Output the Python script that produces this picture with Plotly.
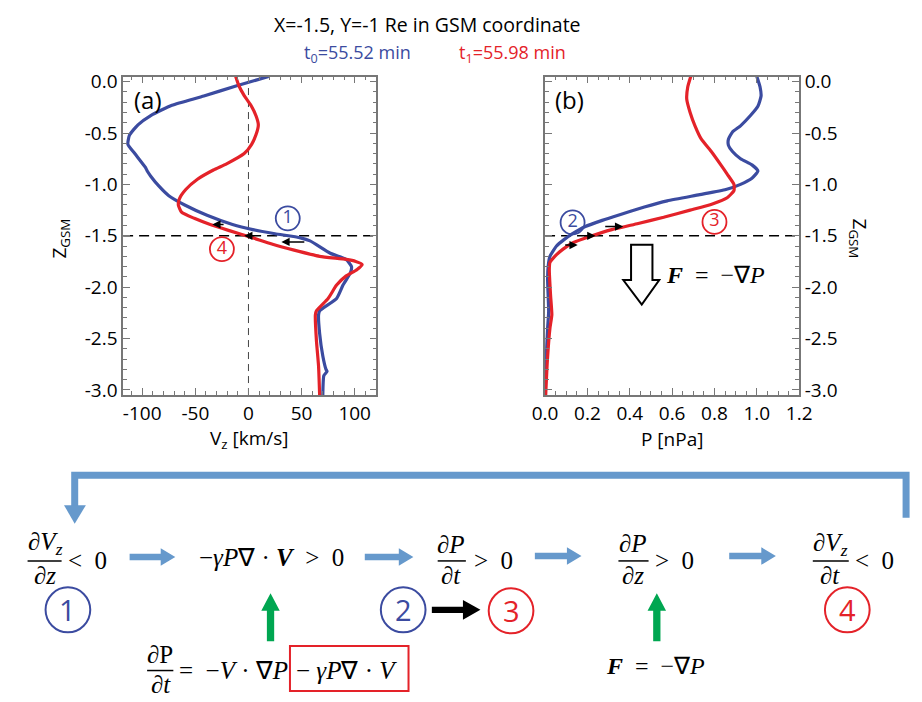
import plotly.graph_objects as go

W, H = 922, 702
BLUE = "#3b4ba0"
RED = "#e42229"
LBLUE = "#6699cc"
GREEN = "#00a651"
AXC = "#777777"
SANS = "Open Sans"
SERIF = "Liberation Serif"

# ---------------- data ----------------
# panel (a): Vz [km/s] vs Z_GSM
z_vz_t0 = [0.05, -0.04, -0.14, -0.23, -0.33, -0.42, -0.52, -0.61, -0.70, -0.835, -0.875, -0.92,
           -1.02, -1.11, -1.20, -1.30, -1.39, -1.44, -1.48, -1.52, -1.55, -1.67, -1.73, -1.80,
           -1.86, -1.98, -2.11, -2.23, -2.27, -2.45, -2.67, -2.80, -2.82, -2.86, -3.05]
vz_t0 = [19, -11, -42, -72, -92, -104, -112, -113.5, -107, -97, -95, -92,
         -84, -75, -60, -39, -15, 4, 25, 49, 58, 77, 92, 97,
         96, 89, 83, 67, 66, 67, 70, 73, 74, 71, 70]

z_vz_t1 = [0.05, -0.04, -0.136, -0.23, -0.33, -0.42, -0.52, -0.61, -0.70, -0.80, -0.86, -0.95,
           -1.05, -1.14, -1.20, -1.27, -1.33, -1.39, -1.45, -1.52, -1.58, -1.64, -1.70, -1.73,
           -1.75, -1.78, -1.83, -1.89, -1.98, -2.11, -2.23, -2.27, -2.52, -2.77, -3.05]
vz_t1 = [-12, -9, -4, 2.3, 7, 9.3, 7, 3, -4, -20.6, -33, -48,
         -59, -65, -66, -63, -51, -36, -18, 4, 22, 43, 67, 92,
         101, 107, 102, 92, 83, 75, 64, 63, 64, 66, 67]

# panel (b): P [nPa] vs Z_GSM
z_p_t0 = [0.05, -0.05, -0.14, -0.24, -0.33, -0.43, -0.49, -0.56, -0.62, -0.68, -0.75, -0.81,
          -0.87, -0.94, -1.00, -1.05, -1.10, -1.16, -1.22, -1.29, -1.35, -1.41, -1.48, -1.54,
          -1.60, -1.70, -1.79, -1.92, -2.24, -2.40, -2.71, -3.05]
p_t0 = [1.00, 1.015, 1.02, 1.005, 0.97, 0.923, 0.885, 0.866, 0.866, 0.885, 0.923, 0.977,
        1.005, 0.977, 0.923, 0.854, 0.73, 0.577, 0.469, 0.36, 0.27, 0.19, 0.13, 0.088,
        0.054, 0.023, 0.015, 0.012, 0.017, 0.012, 0.005, 0.0]

z_p_t1 = [0.05, -0.05, -0.17, -0.30, -0.43, -0.56, -0.68, -0.81, -0.90, -1.00, -1.06, -1.13,
          -1.19, -1.25, -1.32, -1.38, -1.44, -1.51, -1.57, -1.63, -1.70, -1.76, -1.83, -2.08,
          -2.27, -2.40, -2.71, -3.05]
p_t1 = [0.688, 0.674, 0.669, 0.685, 0.708, 0.738, 0.785, 0.83, 0.86, 0.892, 0.892, 0.86,
        0.79, 0.685, 0.56, 0.44, 0.315, 0.208, 0.13, 0.085, 0.046, 0.023, 0.02, 0.026,
        0.032, 0.023, 0.011, 0.003]

# small gradient arrows (tail x, head x, z)
arrows_a = [(-22, -34, -1.39), (7, -4, -1.50), (54, 31, -1.56)]
arrows_b = [(0.277, 0.369, -1.41), (0.177, 0.238, -1.50), (0.088, 0.154, -1.59)]
# circled step numbers inside the panels (x, z, label, colour)
marks_a = [(37, -1.33, "1", BLUE), (-25, -1.63, "4", RED)]
marks_b = [(0.13, -1.37, "2", BLUE), (0.80, -1.365, "3", RED)]

va_ticks = [-100, -50, 0, 50, 100]
p_ticks = [0.0, 0.2, 0.4, 0.6, 0.8, 1.0, 1.2]
z_ticks = [0.0, -0.5, -1.0, -1.5, -2.0, -2.5, -3.0]
z_ref = -1.5


def px(x):
    return x / W


def py(y):
    return 1 - y / H


def poly_path(pts, close=True):
    s = "M " + " L ".join(f"{px(x):.5f},{py(y):.5f}" for x, y in pts)
    return s + (" Z" if close else "")


def h_arrow(x0, x1, y, t, hl, hw):
    return [(x0, y - t / 2), (x1 - hl, y - t / 2), (x1 - hl, y - hw), (x1, y),
            (x1 - hl, y + hw), (x1 - hl, y + t / 2), (x0, y + t / 2)]


def v_arrow_up(x, y0, y1, t, hl, hw):
    return [(x - t / 2, y0), (x - t / 2, y1 + hl), (x - hw, y1 + hl), (x, y1),
            (x + hw, y1 + hl), (x + t / 2, y1 + hl), (x + t / 2, y0)]


fig = go.Figure()
line_kw = dict(width=3.2, shape="spline", smoothing=0.5)
fig.add_trace(go.Scatter(x=vz_t0, y=z_vz_t0, mode="lines", line=dict(color=BLUE, **line_kw),
                         xaxis="x", yaxis="y"))
fig.add_trace(go.Scatter(x=vz_t1, y=z_vz_t1, mode="lines", line=dict(color=RED, **line_kw),
                         xaxis="x", yaxis="y"))
fig.add_trace(go.Scatter(x=p_t0, y=z_p_t0, mode="lines", line=dict(color=BLUE, **line_kw),
                         xaxis="x2", yaxis="y2"))
fig.add_trace(go.Scatter(x=p_t1, y=z_p_t1, mode="lines", line=dict(color=RED, **line_kw),
                         xaxis="x2", yaxis="y2"))

for marks, xa, ya in [(marks_a, "x", "y"), (marks_b, "x2", "y2")]:
    for mx, mz, lab, col in marks:
        fig.add_trace(go.Scatter(x=[mx], y=[mz], mode="markers+text", text=[lab],
                                 textposition="middle center",
                                 textfont=dict(family=SANS, size=18, color=col),
                                 marker=dict(symbol="circle-open", size=24, color=col, line=dict(width=1.8)),
                                 xaxis=xa, yaxis=ya))

tickfont = dict(family=SANS, size=19, color="black")
common = dict(ticks="inside", ticklen=7, tickwidth=1.2, tickcolor=AXC, showline=True,
              linecolor=AXC, linewidth=1.5, mirror="ticks", showgrid=False, zeroline=False,
              tickfont=tickfont, tickmode="array")


def fmt(v):
    return f"{v:.1f}"


x_dom_a = [px(113.3), px(374)]
x_dom_b = [px(547.5), px(809)]
y_dom = [py(395.5), py(70)]

fig.update_layout(
    width=W, height=H, margin=dict(l=0, r=0, t=0, b=0),
    paper_bgcolor="white", plot_bgcolor="white", showlegend=False,
    xaxis=dict(domain=x_dom_a, range=[-118, 120.5], tickvals=va_ticks,
               ticktext=[str(v) for v in va_ticks], anchor="y",
               minor=dict(tickmode="linear", tick0=0, dtick=10, ticks="inside", ticklen=4,
                          tickcolor=AXC, showgrid=False), **common),
    yaxis=dict(domain=y_dom, range=[-3.05, 0.05], tickvals=z_ticks,
               ticktext=[fmt(v) for v in z_ticks], anchor="x",
               minor=dict(tickmode="linear", tick0=0, dtick=0.1, ticks="inside", ticklen=4,
                          tickcolor=AXC, showgrid=False), **common),
    xaxis2=dict(domain=x_dom_b, range=[0, 1.2], tickvals=p_ticks,
                ticktext=[fmt(v) for v in p_ticks], anchor="y2",
                minor=dict(tickmode="linear", tick0=0, dtick=0.05, ticks="inside", ticklen=4,
                           tickcolor=AXC, showgrid=False), **common),
    yaxis2=dict(domain=y_dom, range=[-3.05, 0.05], tickvals=z_ticks, side="right",
                ticktext=[fmt(v) for v in z_ticks], anchor="x2",
                minor=dict(tickmode="linear", tick0=0, dtick=0.1, ticks="inside", ticklen=4,
                           tickcolor=AXC, showgrid=False), **common),
)

shapes = []
# reference dashed lines
shapes.append(dict(type="line", xref="x domain", yref="y", x0=0, x1=1, y0=z_ref, y1=z_ref,
                   line=dict(color="black", width=1.6, dash="10px,6px"), layer="below"))
shapes.append(dict(type="line", xref="x2 domain", yref="y2", x0=0, x1=1, y0=z_ref, y1=z_ref,
                   line=dict(color="black", width=1.6, dash="10px,6px"), layer="below"))
shapes.append(dict(type="line", xref="x", yref="y domain", x0=0, x1=0, y0=0, y1=1,
                   line=dict(color="#444444", width=1, dash="7px,5px"), layer="below"))
# hollow force arrow in panel (b)
shapes.append(dict(type="path", xref="paper", yref="paper",
                   path=poly_path([(636, 242), (658, 242), (658, 278), (665, 278), (647, 303),
                                   (628, 278), (636, 278)]),
                   line=dict(color="black", width=2), fillcolor="rgba(0,0,0,0)"))
# feedback bracket
shapes.append(dict(type="path", xref="paper", yref="paper",
                   path=poly_path([(63.5, 510), (63.5, 477.5), (919, 477.5), (919, 521)], close=False),
                   line=dict(color=LBLUE, width=7), fillcolor="rgba(0,0,0,0)"))
shapes.append(dict(type="path", xref="paper", yref="paper",
                   path=poly_path([(52.5, 508), (75, 508), (63.5, 527)]),
                   line=dict(color=LBLUE, width=0), fillcolor=LBLUE))
# flow arrows
for x0, x1, y in [(120, 167, 561), (362, 412, 561), (537, 585, 560), (737, 785, 560)]:
    shapes.append(dict(type="path", xref="paper", yref="paper",
                       path=poly_path(h_arrow(x0, x1, y, 6.5, 15, 9)),
                       line=dict(width=0), fillcolor=LBLUE))
shapes.append(dict(type="path", xref="paper", yref="paper",
                   path=poly_path(h_arrow(431, 481, 615, 6.5, 18, 10)),
                   line=dict(width=0), fillcolor="black"))
for x in [265, 662.5]:
    shapes.append(dict(type="path", xref="paper", yref="paper",
                       path=poly_path(v_arrow_up(x, 647, 598, 7.5, 18, 9.5)),
                       line=dict(width=0), fillcolor=GREEN))
# fraction bars
for x0, x1, y in [(15, 50, 565), (437, 466, 565), (623, 654, 565), (823, 860, 565), (138, 165, 677)]:
    shapes.append(dict(type="line", xref="paper", yref="paper", x0=px(x0), x1=px(x1),
                       y0=py(y), y1=py(y), line=dict(color="black", width=1.5)))
# red box
shapes.append(dict(type="rect", xref="paper", yref="paper", x0=px(285), x1=px(407),
                   y0=py(698), y1=py(652), line=dict(color=RED, width=2)))
# step circles
steps = [(56.5, 615, "1", BLUE), (401.5, 615, "2", BLUE), (512.5, 616, "3", RED), (858.5, 615, "4", RED)]
for cx, cy, lab, col in steps:
    r = 23
    shapes.append(dict(type="circle", xref="paper", yref="paper", x0=px(cx - r), x1=px(cx + r),
                       y0=py(cy + r), y1=py(cy - r), line=dict(color=col, width=2)))

ann = []


def text(t, x, y, size=25, family=SERIF, color="black", angle=0):
    ann.append(dict(text=t, x=px(x), y=py(y), xref="paper", yref="paper", showarrow=False,
                    xanchor="center", yanchor="middle", textangle=angle,
                    font=dict(family=family, size=size, color=color)))


SP = "&nbsp;"
text("X=-1.5, Y=-1 Re in GSM coordinate", 427, 17, size=19.5, family=SANS)
text("t<sub>0</sub>=55.52 min", 354, 47, size=18, family=SANS, color=BLUE)
text("t<sub>1</sub>=55.98 min", 514, 47, size=18, family=SANS, color=RED)
text("(a)", 139, 93, size=24, family=SANS)
text("(b)", 573, 93, size=24, family=SANS)
text("V<sub>z</sub> [km/s]", 243, 440, size=19, family=SANS)
text("P [nPa]", 678, 440, size=19, family=SANS)
text("Z<sub>GSM</sub>", 48, 236, size=19, family=SANS, angle=-90)
text("Z<sub>GSM</sub>", 871, 236, size=19, family=SANS, angle=90)
text(f"<b><i>F</i></b>{SP} ={SP} −∇<i>P</i>", 723, 273, size=24)

for cx, cy, lab, col in steps:
    text(lab, cx, cy, size=29, family=SANS, color=col)

text("<i>∂V</i><sub><i>z</i></sub>", 33, 547)
text("<i>∂z</i>", 33, 580)
text(f"&lt;{SP}{SP}0", 77, 565)
text(f"−<i>γP</i>∇ · <b><i>V</i></b>{SP} &gt;{SP} 0", 266, 562)
text("<i>∂P</i>", 451, 548)
text("<i>∂t</i>", 451, 580)
text(f"&gt;{SP}{SP}0", 494, 565)
text("<i>∂P</i>", 638, 547)
text("<i>∂z</i>", 638, 580)
text(f"&gt;{SP}{SP}0", 681, 565)
text("<i>∂V</i><sub><i>z</i></sub>", 841, 548)
text("<i>∂t</i>", 841, 580)
text(f"&lt;{SP}{SP}0", 887, 565)
text("∂P", 151, 661)
text("<i>∂t</i>", 152, 691)
text(f"={SP} −<i>V</i> · ∇<i>P</i>", 227, 677)
text(f"−{SP}<i>γP</i>∇ · <i>V</i>", 343, 677)
text(f"<b><i>F</i></b>{SP} ={SP} −∇<i>P</i>", 661, 672, size=24)

# small black gradient arrows
for arrows, xa, ya in [(arrows_a, "x", "y"), (arrows_b, "x2", "y2")]:
    for tx, hx, z in arrows:
        ann.append(dict(x=hx, y=z, ax=tx, ay=z, xref=xa, yref=ya, axref=xa, ayref=ya,
                        showarrow=True, arrowhead=2, arrowsize=1.1, arrowwidth=1.5,
                        arrowcolor="black", text=""))

fig.update_layout(shapes=shapes, annotations=ann)
fig.write_html("out.html")
